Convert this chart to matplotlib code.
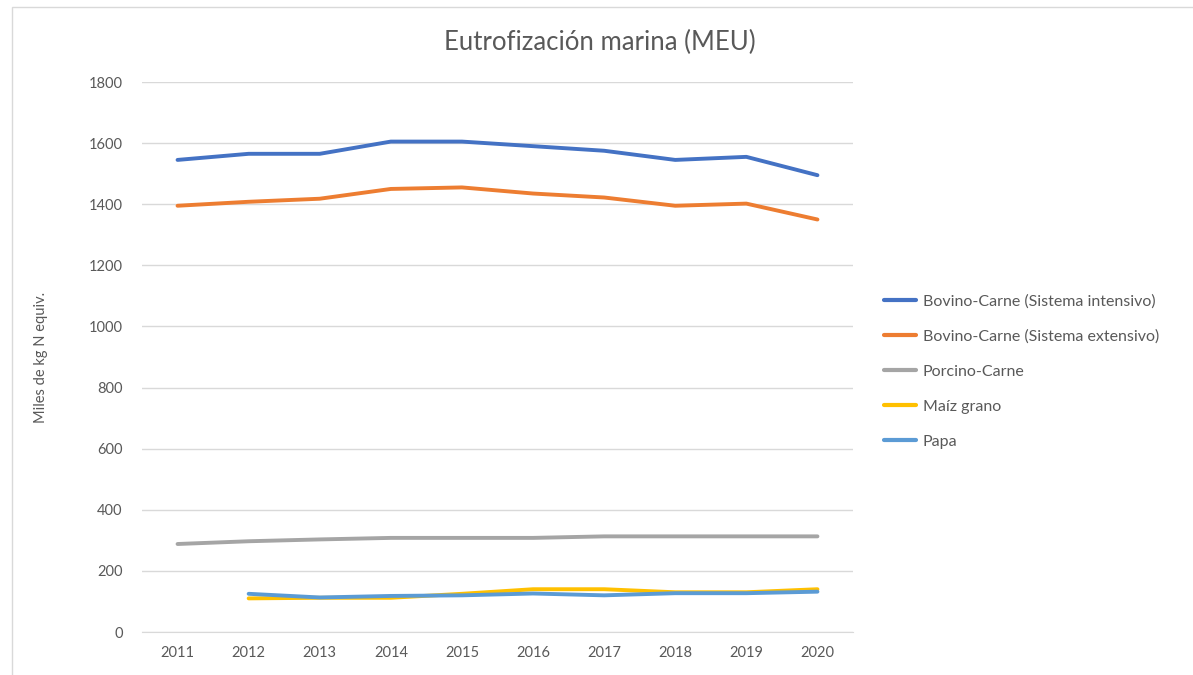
import matplotlib
matplotlib.use("Agg")
import matplotlib.pyplot as plt
from matplotlib.patches import Rectangle
import numpy as np

plt.rcParams['font.family'] = ['Lato', 'DejaVu Sans']

years = ["2011", "2012", "2013", "2014", "2015", "2016", "2017", "2018", "2019", "2020"]
bovino_intensivo = [1545, 1565, 1565, 1605, 1605, 1590, 1575, 1545, 1555, 1495]
bovino_extensivo = [1395, 1408, 1418, 1450, 1455, 1435, 1422, 1395, 1402, 1350]
porcino = [288, 297, 303, 308, 308, 308, 313, 313, 313, 313]
maiz = [np.nan, 110, 112, 112, 125, 140, 140, 130, 130, 140]
papa = [np.nan, 125, 113, 118, 120, 126, 120, 127, 127, 132]

series = [
    ("Bovino-Carne (Sistema intensivo)", bovino_intensivo, "#4472C4"),
    ("Bovino-Carne (Sistema extensivo)", bovino_extensivo, "#ED7D31"),
    ("Porcino-Carne", porcino, "#A5A5A5"),
    ("Maíz grano", maiz, "#FFC000"),
    ("Papa", papa, "#5B9BD5"),
]

fig = plt.figure(figsize=(11.93, 6.75), dpi=100)
fig.patches.append(Rectangle((12/1193, -0.1), 1.2, (675-7)/675 + 0.1, transform=fig.transFigure,
                             fill=False, edgecolor="#D9D9D9", linewidth=1.0))

ax = fig.add_axes([142/1193, 43/675, 711/1193, 550/675])
x = np.arange(len(years))
for name, vals, col in series:
    ax.plot(x, vals, color=col, linewidth=2.8, label=name, solid_capstyle="round")

ax.set_xlim(-0.5, len(years) - 0.5)
ax.set_ylim(0, 1800)
ax.set_yticks(range(0, 1801, 200))
ax.set_xticks(x)
ax.set_xticklabels(years)
ax.grid(axis="y", color="#D9D9D9", linewidth=1.0)
ax.set_axisbelow(True)
for s in ["top", "right", "left"]:
    ax.spines[s].set_visible(False)
ax.spines["bottom"].set_color("#D9D9D9")
ax.tick_params(axis="both", length=0, colors="#595959", labelsize=10.5)
ax.tick_params(axis="y", pad=14)
ax.tick_params(axis="x", pad=10)
ax.set_ylabel("Miles de kg N equiv.", color="#595959", fontsize=10.5)
ax.yaxis.set_label_coords(-94/711, 0.5)

fig.text(600/1193, 1 - 42/675, "Eutrofización marina (MEU)", ha="center", va="center",
         fontsize=18.5, color="#595959")

leg = ax.legend(loc="upper left", bbox_to_anchor=(870/1193, 1 - 280/675), bbox_transform=fig.transFigure,
                frameon=False, fontsize=11.5, labelcolor="#595959", handlelength=2.0,
                labelspacing=1.3, handletextpad=0.4)
for line in leg.get_lines():
    line.set_linewidth(3)

fig.savefig("out.png", dpi=100, facecolor="white")
